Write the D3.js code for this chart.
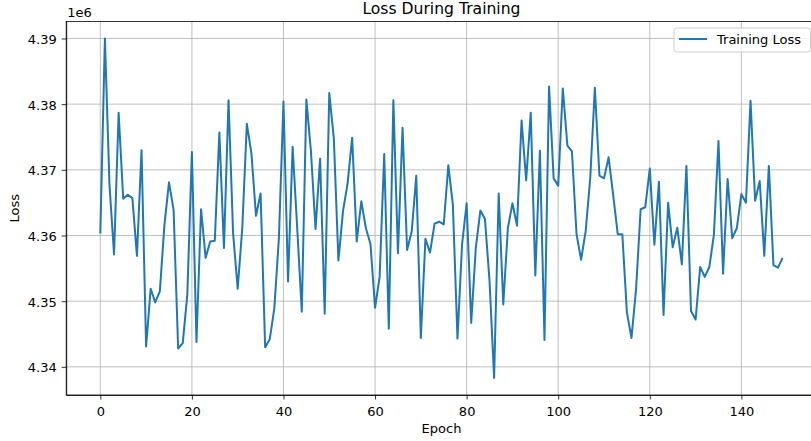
<!DOCTYPE html>
<html>
<head>
<meta charset="utf-8">
<script src="https://cdn.jsdelivr.net/npm/d3@7"></script>
<style>
  body { margin: 0; background: #fff; }
  svg { display: block; font-family: 'DejaVu Sans', sans-serif; }
  .grid line { stroke: #b0b0b0; stroke-width: 0.8; }
  .axis path, .axis line { stroke: #000; stroke-width: 0.8; }
  .axis text { fill: #000; font-size: 13px; font-family: 'DejaVu Sans', sans-serif; }
</style>
</head>
<body>
<svg id="chart" width="811" height="441"></svg>
<script>
// training loss per epoch, in units of 1e6
var lossE6 = [
  4.3603, 4.3900, 4.3677, 4.3571, 4.3787, 4.3656, 4.3662, 4.3657, 4.3569, 4.3730,
  4.3431, 4.3519, 4.3498, 4.3515, 4.3616, 4.3681, 4.3639, 4.3428, 4.3436, 4.3510,
  4.3727, 4.3438, 4.3640, 4.3566, 4.3591, 4.3592, 4.3757, 4.3581, 4.3806, 4.3603,
  4.3519, 4.3611, 4.3770, 4.3725, 4.3630, 4.3664, 4.3430, 4.3442, 4.3489, 4.3596,
  4.3804, 4.3530, 4.3735, 4.3611, 4.3484, 4.3807, 4.3728, 4.3610, 4.3717, 4.3481,
  4.3817, 4.3748, 4.3562, 4.3637, 4.3679, 4.3749, 4.3591, 4.3652, 4.3611, 4.3587,
  4.3490, 4.3537, 4.3724, 4.3458, 4.3806, 4.3573, 4.3764, 4.3578, 4.3606, 4.3691,
  4.3444, 4.3595, 4.3574, 4.3618, 4.3621, 4.3617, 4.3707, 4.3646, 4.3443, 4.3586,
  4.3649, 4.3467, 4.3581, 4.3638, 4.3625, 4.3531, 4.3383, 4.3664, 4.3495, 4.3611,
  4.3649, 4.3615, 4.3775, 4.3684, 4.3787, 4.3539, 4.3729, 4.3441, 4.3827, 4.3687,
  4.3676, 4.3824, 4.3737, 4.3728, 4.3602, 4.3563, 4.3607, 4.3688, 4.3825, 4.3691,
  4.3687, 4.3719, 4.3662, 4.3602, 4.3602, 4.3483, 4.3444, 4.3518, 4.3640, 4.3643,
  4.3702, 4.3586, 4.3682, 4.3479, 4.3650, 4.3582, 4.3612, 4.3556, 4.3706, 4.3485,
  4.3472, 4.3552, 4.3537, 4.3552, 4.3601, 4.3744, 4.3542, 4.3686, 4.3596, 4.3611,
  4.3663, 4.3650, 4.3805, 4.3653, 4.3683, 4.3569, 4.3706, 4.3555, 4.3551, 4.3566
];
var epochs = d3.range(lossE6.length);
var xTicks = [0, 20, 40, 60, 80, 100, 120, 140];
var yTicks = [4.34, 4.35, 4.36, 4.37, 4.38, 4.39];
var titleText = 'Loss During Training',
    xLabel = 'Epoch',
    yLabel = 'Loss',
    offsetText = '1e6',
    seriesName = 'Training Loss';

var
  svg = d3.select('#chart'),
  margin = {top: 21.5, left: 66.2},
  plotW = 750.5,   // right spine sits just past the picture edge
  plotH = 373.5,
  lineColor = '#1f77b4'
  ;

// matplotlib style 5% padding on both axes
function padded(ext){
  var r = ext[1] - ext[0];
  return [ext[0] - r * 0.05, ext[1] + r * 0.05];
}

var xScale = d3.scaleLinear()
  .domain(padded(d3.extent(epochs)))
  .range([0, plotW]);

var yScale = d3.scaleLinear()
  .domain(padded(d3.extent(lossE6)))
  .range([plotH, 0]);

var g = svg.append('g')
  .attr('transform', 'translate(' + margin.left + ',' + margin.top + ')');

// grid
g.append('g').attr('class', 'grid')
  .selectAll('line.v').data(xTicks).enter().append('line')
  .attr('x1', function(d){ return xScale(d); })
  .attr('x2', function(d){ return xScale(d); })
  .attr('y1', 0).attr('y2', plotH);

g.append('g').attr('class', 'grid')
  .selectAll('line.h').data(yTicks).enter().append('line')
  .attr('x1', 0).attr('x2', plotW)
  .attr('y1', function(d){ return yScale(d); })
  .attr('y2', function(d){ return yScale(d); });

// loss line
var line = d3.line()
  .x(function(d, i){ return xScale(epochs[i]); })
  .y(function(d){ return yScale(d); });

g.append('path')
  .datum(lossE6)
  .attr('fill', 'none')
  .attr('stroke', lineColor)
  .attr('stroke-width', 2)
  .attr('stroke-linejoin', 'round')
  .attr('d', line);

// axes
var xAxis = g.append('g')
  .attr('class', 'axis axis--x')
  .attr('transform', 'translate(0,' + plotH + ')')
  .call(d3.axisBottom(xScale).tickValues(xTicks).tickSize(4.5).tickPadding(5).tickSizeOuter(0));
xAxis.selectAll('text').attr('dy', null).attr('y', 21);

var yAxis = g.append('g')
  .attr('class', 'axis axis--y')
  .call(d3.axisLeft(yScale).tickValues(yTicks).tickSize(4.5).tickPadding(5).tickSizeOuter(0)
    .tickFormat(d3.format('.2f')));
yAxis.selectAll('text').attr('dy', null).attr('y', 5);

// spines
g.append('rect')
  .attr('x', 0).attr('y', 0)
  .attr('width', plotW).attr('height', plotH)
  .attr('fill', 'none')
  .attr('stroke', '#000')
  .attr('stroke-width', 0.8);

// texts
svg.append('text')
  .attr('x', margin.left + plotW / 2).attr('y', 14)
  .attr('text-anchor', 'middle')
  .attr('font-size', 15.6)
  .text(titleText);

svg.append('text')
  .attr('x', margin.left + 1).attr('y', 17)
  .attr('font-size', 13)
  .text(offsetText);

svg.append('text')
  .attr('x', 441.5).attr('y', 433)
  .attr('text-anchor', 'middle')
  .attr('font-size', 13)
  .text(xLabel);

svg.append('text')
  .attr('transform', 'translate(19,' + (margin.top + plotH / 2) + ') rotate(-90)')
  .attr('text-anchor', 'middle')
  .attr('font-size', 13)
  .text(yLabel);

// legend
var legend = svg.append('g').attr('transform', 'translate(674,28)');
legend.append('rect')
  .attr('width', 136.5).attr('height', 24)
  .attr('rx', 2.6)
  .attr('fill', '#fff').attr('fill-opacity', 0.8)
  .attr('stroke', '#cccccc').attr('stroke-width', 1);
legend.append('line')
  .attr('x1', 5).attr('x2', 33)
  .attr('y1', 11).attr('y2', 11)
  .attr('stroke', lineColor).attr('stroke-width', 2);
legend.append('text')
  .attr('x', 43).attr('y', 16)
  .attr('font-size', 13)
  .text(seriesName);
</script>
</body>
</html>
